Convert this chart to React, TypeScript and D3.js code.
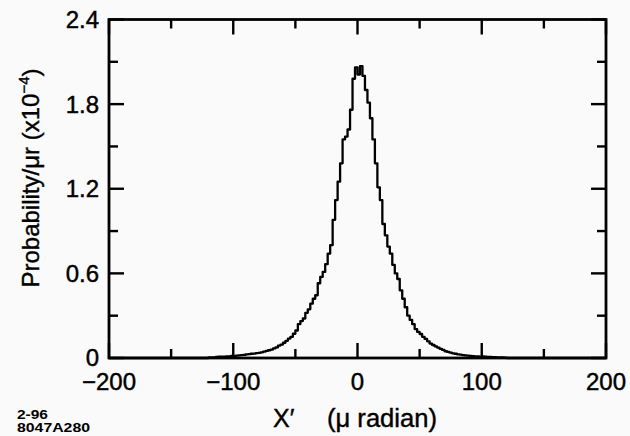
import React from "react";
import * as d3 from "d3";

// ---- data ----
const binStart = -120; // µrad, left edge of first bin
const binWidth = 2; // µrad
const probability = [
  0.004, 0.005, 0.005, 0.007, 0.009, 0.010, 0.009, 0.011, 0.012, 0.015,
  0.014, 0.017, 0.019, 0.021, 0.022, 0.025, 0.027, 0.030, 0.031, 0.035,
  0.037, 0.040, 0.045, 0.050, 0.055, 0.060, 0.068, 0.075, 0.088, 0.095,
  0.108, 0.122, 0.138, 0.150, 0.172, 0.195, 0.240, 0.262, 0.280, 0.320,
  0.345, 0.385, 0.420, 0.445, 0.530, 0.575, 0.610, 0.665, 0.740, 0.800,
  0.980, 1.120, 1.250, 1.380, 1.550, 1.570, 1.620, 1.760, 1.980, 2.060,
  2.010, 2.070, 2.000, 1.900, 1.810, 1.700, 1.550, 1.380, 1.210, 1.120,
  0.950, 0.870, 0.790, 0.740, 0.660, 0.600, 0.560, 0.480, 0.420, 0.360,
  0.300, 0.270, 0.240, 0.205, 0.185, 0.170, 0.150, 0.135, 0.118, 0.102,
  0.092, 0.083, 0.074, 0.065, 0.057, 0.048, 0.043, 0.038, 0.033, 0.030,
  0.026, 0.024, 0.021, 0.019, 0.017, 0.015, 0.014, 0.012, 0.012, 0.010,
  0.011, 0.009, 0.008, 0.007, 0.006, 0.006, 0.005, 0.004, 0.004, 0.003,
];
const xDomain = [-200, 200];
const yDomain = [0, 2.4];
const xMajorTicks = [-200, -100, 0, 100, 200];
const xMinorTicks = [-150, -50, 50, 150];
const yMajorTicks = [0, 0.6, 1.2, 1.8, 2.4];
const yMinorTicks = [0.3, 0.9, 1.5, 2.1];
const xTickLabels = ["\u2212200", "\u2212100", "0", "100", "200"];
const yTickLabels = ["0", "0.6", "1.2", "1.8", "2.4"];

const W = 630;
const H = 436;
const left = 109;
const right = 606;
const top = 19.5;
const bottom = 358;
const FONT = "'Liberation Sans', Arial, Helvetica, sans-serif";

export default function App() {
  const x = d3.scaleLinear().domain(xDomain).range([left, right]);
  const y = d3.scaleLinear().domain(yDomain).range([bottom, top]);

  const pts: [number, number][] = [[xDomain[0], 0]];
  probability.forEach((v, i) => pts.push([binStart + i * binWidth, v]));
  pts.push([binStart + probability.length * binWidth, 0]);
  pts.push([xDomain[1], 0]);

  const line = d3
    .line<[number, number]>()
    .x((d) => x(d[0]))
    .y((d) => y(d[1]))
    .curve(d3.curveStepAfter);

  const majorLen = 15;
  const minorLen = 9;
  const tickStyle = { stroke: "#000", strokeWidth: 2.4 };

  return (
    <svg
      width={W}
      height={H}
      style={{ position: "absolute", left: 0, top: 0, background: "#fafafa" }}
    >
      <rect x={0} y={0} width={W} height={H} fill="#fafafa" />
      {/* ticks */}
      {xMajorTicks.map((t) => (
        <g key={"xM" + t}>
          <line x1={x(t)} x2={x(t)} y1={bottom} y2={bottom - majorLen} {...tickStyle} />
          <line x1={x(t)} x2={x(t)} y1={top} y2={top + majorLen} {...tickStyle} />
        </g>
      ))}
      {xMinorTicks.map((t) => (
        <g key={"xm" + t}>
          <line x1={x(t)} x2={x(t)} y1={bottom} y2={bottom - minorLen} {...tickStyle} />
          <line x1={x(t)} x2={x(t)} y1={top} y2={top + minorLen} {...tickStyle} />
        </g>
      ))}
      {yMajorTicks.map((t) => (
        <g key={"yM" + t}>
          <line x1={left} x2={left + majorLen} y1={y(t)} y2={y(t)} {...tickStyle} />
          <line x1={right} x2={right - majorLen} y1={y(t)} y2={y(t)} {...tickStyle} />
        </g>
      ))}
      {yMinorTicks.map((t) => (
        <g key={"ym" + t}>
          <line x1={left} x2={left + minorLen} y1={y(t)} y2={y(t)} {...tickStyle} />
          <line x1={right} x2={right - minorLen} y1={y(t)} y2={y(t)} {...tickStyle} />
        </g>
      ))}
      {/* histogram */}
      <path d={line(pts) || ""} fill="none" stroke="#000" strokeWidth={2.3} strokeLinejoin="round" />
      {/* frame */}
      <rect
        x={left}
        y={top}
        width={right - left}
        height={bottom - top}
        fill="none"
        stroke="#000"
        strokeWidth={2.8}
      />
      {/* tick labels */}
      <g fontFamily={FONT} fontSize={24} fill="#000" stroke="#000" strokeWidth={0.45}>
        {xMajorTicks.map((t, i) => (
          <text key={"xl" + t} x={x(t)} y={390} textAnchor="middle">
            {xTickLabels[i]}
          </text>
        ))}
        {yMajorTicks.map((t, i) => (
          <text key={"yl" + t} x={99} y={y(t) - (t === 0 ? 1 : 0)} dy="0.36em" textAnchor="end">
            {yTickLabels[i]}
          </text>
        ))}
      </g>
      {/* axis titles */}
      <g fontFamily={FONT} fontSize={25} fill="#000" stroke="#000" strokeWidth={0.4}>
        <text x={273} y={427}>X{"\u2032"}</text>
        <text x={327} y={427} textLength={110} lengthAdjust="spacingAndGlyphs">
          ({"\u03bc"} radian)
        </text>
        <text transform={`translate(39,178) rotate(-90)`} textAnchor="middle" fontSize={24}>
          <tspan>Probability/{"\u03bc"}r (x10</tspan>
          <tspan fontSize={15} dy={-10}>{"\u2212"}4</tspan>
          <tspan dy={10}>)</tspan>
        </text>
      </g>
      {/* corner id */}
      <g fontFamily={FONT} fontWeight="bold" fill="#000">
        <text x={17} y={419} fontSize={12} textLength={31} lengthAdjust="spacingAndGlyphs">
          2-96
        </text>
        <text x={17} y={432} fontSize={12} textLength={73} lengthAdjust="spacingAndGlyphs">
          8047A280
        </text>
      </g>
    </svg>
  );
}
